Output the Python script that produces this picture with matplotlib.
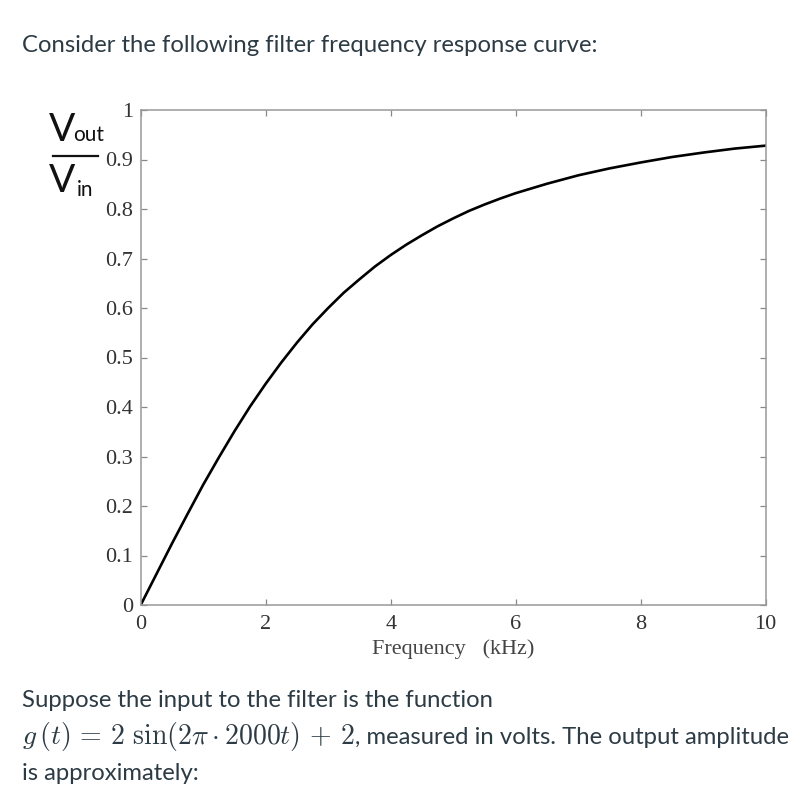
import matplotlib.pyplot as plt
import numpy as np

# frequency response (kHz, Vout/Vin)
freq = [0, 0.25, 0.5, 0.75, 1.0, 1.25, 1.5, 1.75, 2.0, 2.25, 2.5, 2.75, 3.0,
        3.25, 3.5, 3.75, 4.0, 4.25, 4.5, 4.75, 5.0, 5.25, 5.5, 5.75, 6.0,
        6.5, 7.0, 7.5, 8.0, 8.5, 9.0, 9.5, 10.0]
gain = [0, 0.062, 0.124, 0.184, 0.243, 0.298, 0.351, 0.401, 0.447, 0.490, 0.530, 0.567, 0.600,
        0.631, 0.658, 0.684, 0.707, 0.728, 0.747, 0.765, 0.781, 0.796, 0.809, 0.821, 0.832,
        0.851, 0.868, 0.882, 0.894, 0.905, 0.914, 0.922, 0.928]

xticks = [0, 2, 4, 6, 8, 10]
yticks = [0, 0.1, 0.2, 0.3, 0.4, 0.5, 0.6, 0.7, 0.8, 0.9, 1]
ylabels = ['0', '0.1', '0.2', '0.3', '0.4', '0.5', '0.6', '0.7', '0.8', '0.9', '1']

W, H = 811, 802
txtcol = '#2d3b45'
body = 'Lato'
serif = 'Liberation Serif'
fs = 17.2
plt.rcParams['mathtext.fontset'] = 'cm'

fig = plt.figure(figsize=(W / 100, H / 100), dpi=100)
ax = fig.add_axes([140.7 / W, 1 - 605 / H, 625 / W, 495 / H])

ax.plot(freq, gain, color='black', lw=1.9)
ax.set_xlim(0, 10)
ax.set_ylim(0, 1)
ax.set_xticks(xticks)
ax.set_xticklabels([str(v) for v in xticks], fontfamily=serif, fontsize=16, color='#333')
ax.set_yticks(yticks)
ax.set_yticklabels(ylabels, fontfamily=serif, fontsize=16, color='#333')
ax.tick_params(direction='in', length=4, width=0.9, color='#888', top=True, right=True)
ax.tick_params(axis='y', pad=5.5)
ax.tick_params(axis='x', pad=7)
for s in ax.spines.values():
    s.set_color('#999')
    s.set_linewidth(1.1)

ax.set_xlabel('Frequency   (kHz)', fontfamily=serif, fontsize=16, color='#444', labelpad=4)

# Vout / Vin label
def px(x, y):
    return x / W, 1 - y / H

fig.text(*px(49, 141), 'V', fontfamily=body, fontsize=28, color='#111', va='baseline')
fig.text(*px(73, 141), 'out', fontfamily=body, fontsize=15, color='#111', va='baseline')
fig.add_artist(plt.Line2D([53 / W, 98 / W], [1 - 155.5 / H] * 2, color='#111', lw=1.6))
fig.text(*px(49, 192), 'V', fontfamily=body, fontsize=28, color='#111', va='baseline')
fig.text(*px(77, 196), 'in', fontfamily=body, fontsize=15, color='#111', va='baseline')

# question text
fig.text(*px(22, 52), 'Consider the following filter frequency response curve:',
         fontfamily=body, fontsize=fs, color=txtcol, va='baseline')
fig.text(*px(22, 707), 'Suppose the input to the filter is the function',
         fontfamily=body, fontsize=fs, color=txtcol, va='baseline')
m = fig.text(*px(22, 744), r'$g\,(t)\,=\,2\ \sin(2\pi \cdot 2000t)\,+\,2$',
             fontsize=20, color=txtcol, va='baseline')
fig.canvas.draw()
bb = m.get_window_extent(fig.canvas.get_renderer())
fig.text(bb.x1 / W, 1 - 744 / H, ', measured in volts. The output amplitude',
         fontfamily=body, fontsize=fs, color=txtcol, va='baseline')
fig.text(*px(22, 780), 'is approximately:',
         fontfamily=body, fontsize=fs, color=txtcol, va='baseline')

fig.savefig('out.png', dpi=100, facecolor='white')
